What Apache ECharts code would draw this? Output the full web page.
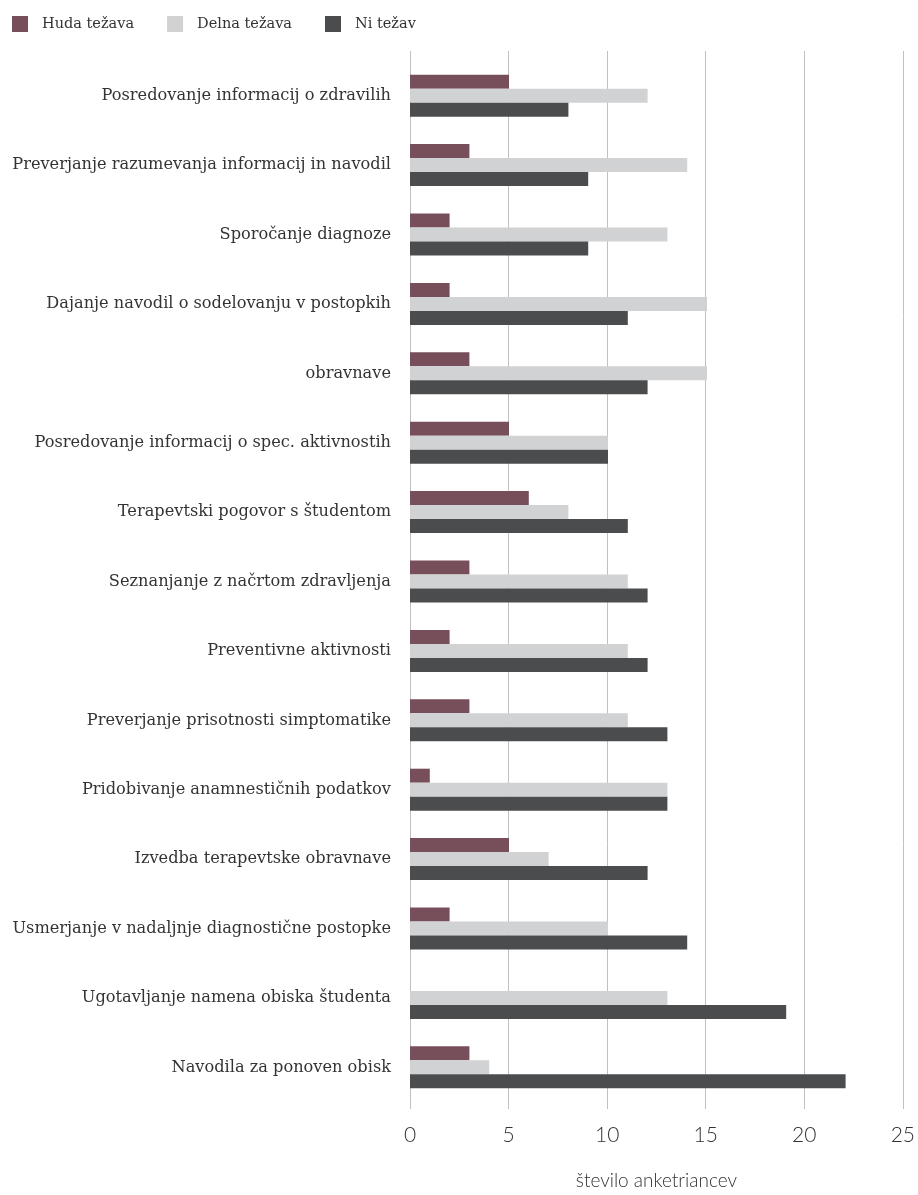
<!DOCTYPE html>
<html>
<head>
<meta charset="utf-8">
<script src="https://cdn.jsdelivr.net/npm/echarts@6/dist/echarts.min.js"></script>
<style>
  html, body { margin: 0; padding: 0; background: #ffffff; }
  #chart { width: 918px; height: 1195px; }
</style>
</head>
<body>
<div id="chart"></div>
<script>
// Activities, top to bottom
const categories = [
  'Posredovanje informacij o zdravilih',
  'Preverjanje razumevanja informacij in navodil',
  'Sporočanje diagnoze',
  'Dajanje navodil o sodelovanju v postopkih',
  'obravnave',
  'Posredovanje informacij o spec. aktivnostih',
  'Terapevtski pogovor s študentom',
  'Seznanjanje z načrtom zdravljenja',
  'Preventivne aktivnosti',
  'Preverjanje prisotnosti simptomatike',
  'Pridobivanje anamnestičnih podatkov',
  'Izvedba terapevtske obravnave',
  'Usmerjanje v nadaljnje diagnostične postopke',
  'Ugotavljanje namena obiska študenta',
  'Navodila za ponoven obisk'
];

const seriesNames = ['Huda težava', 'Delna težava', 'Ni težav'];

const hudaTezava  = [5, 3, 2, 2, 3, 5, 6, 3, 2, 3, 1, 5, 2, 0, 3];
const delnaTezava = [12, 14, 13, 15, 15, 10, 8, 11, 11, 11, 13, 7, 10, 13, 4];
const niTezav     = [8, 9, 9, 11, 12, 10, 11, 12, 12, 13, 13, 12, 14, 19, 22];

const xTicks = { min: 0, max: 25, interval: 5 };
const xAxisTitle = 'število anketriancev';

const colors = ['#774f5a', '#d1d2d4', '#4b4c4e'];

const sansFont = 'Lato, "Open Sans", sans-serif';
const serifFont = '"DejaVu Serif", serif';

const chart = echarts.init(document.getElementById('chart'), null, { renderer: 'canvas' });

chart.setOption({
  animation: false,
  color: colors,
  legend: {
    left: 7,
    top: 11,
    itemWidth: 16,
    itemHeight: 16,
    itemGap: 33,
    icon: 'rect',
    data: seriesNames,
    textStyle: {
      fontFamily: serifFont,
      fontSize: 14.5,
      color: '#333333',
      padding: [0, 0, 0, 9]
    }
  },
  grid: [
    // frame for the vertical gridlines and value labels
    { left: 410, right: 13, top: 51, bottom: 84, containLabel: false },
    // frame holding the bars
    { left: 410, right: 13, top: 61, bottom: 93, containLabel: false }
  ],
  xAxis: [
    {
      gridIndex: 0,
      type: 'value',
      min: xTicks.min,
      max: xTicks.max,
      interval: xTicks.interval,
      name: xAxisTitle,
      nameLocation: 'middle',
      nameGap: 62,
      nameTextStyle: { fontFamily: sansFont, fontSize: 19, fontWeight: 300, color: '#333333' },
      axisLine: { show: false },
      axisTick: { show: false },
      axisLabel: { margin: 16, fontFamily: sansFont, fontSize: 21, fontWeight: 300, color: '#333333' },
      splitLine: { show: true, lineStyle: { color: '#c0c0c0', width: 1 } }
    },
    {
      gridIndex: 1,
      type: 'value',
      min: xTicks.min,
      max: xTicks.max,
      interval: xTicks.interval,
      show: false,
      splitLine: { show: false }
    }
  ],
  yAxis: [
    {
      gridIndex: 0,
      type: 'category',
      data: categories,
      show: false
    },
    {
      gridIndex: 1,
      type: 'category',
      data: categories,
      inverse: true,
      axisLine: { show: false },
      axisTick: { show: false },
      axisLabel: { margin: 19, fontFamily: serifFont, fontSize: 16.2, color: '#333333' },
      splitLine: { show: false }
    }
  ],
  series: [
    { name: seriesNames[0], type: 'bar', xAxisIndex: 1, yAxisIndex: 1, data: hudaTezava, barWidth: 14, barGap: '0%' },
    { name: seriesNames[1], type: 'bar', xAxisIndex: 1, yAxisIndex: 1, data: delnaTezava, barWidth: 14, barGap: '0%' },
    { name: seriesNames[2], type: 'bar', xAxisIndex: 1, yAxisIndex: 1, data: niTezav, barWidth: 14, barGap: '0%' }
  ]
});
</script>
</body>
</html>
